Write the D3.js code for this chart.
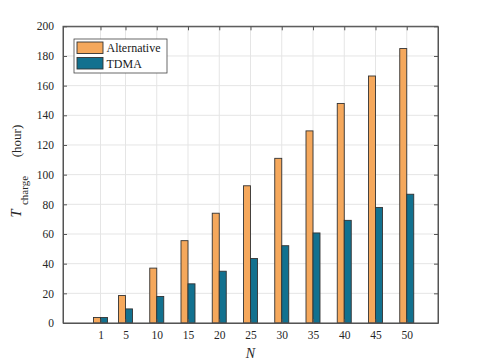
<!DOCTYPE html>
<html><head><meta charset="utf-8">
<script src="https://cdn.jsdelivr.net/npm/d3@7/dist/d3.min.js"></script>
<style>body{margin:0;background:#fff}svg{display:block}text{font-family:"Liberation Serif","Times New Roman",serif}</style>
</head><body><svg id="c" width="485" height="363"></svg>
<script>
const categories = [1, 5, 10, 15, 20, 25, 30, 35, 40, 45, 50];
const alternative = [3.7, 18.5, 37, 55.5, 74, 92.5, 111, 129.5, 148, 166.5, 185];
const tdma = [3.7, 9.5, 17.9, 26.4, 34.9, 43.5, 52.1, 60.7, 69.2, 77.9, 86.8];
const seriesNames = ["Alternative", "TDMA"];
const colors = ["#F5A85C", "#12718F"];
const yTicks = [0, 20, 40, 60, 80, 100, 120, 140, 160, 180, 200];

const svg = d3.select("#c");
const L = 63, R = 438, T = 26.3, B = 323;
const x = d3.scaleLinear().domain([-5, 55]).range([L, R]);
const y = d3.scaleLinear().domain([0, 200]).range([B, T]);
const bw = 1.12; // bar width in data units
const axisCol = "#555";
const tickFont = "11.5px";

// grid
svg.append("g").selectAll("line").data(categories).join("line")
  .attr("x1", d => x(d)).attr("x2", d => x(d)).attr("y1", T).attr("y2", B)
  .attr("stroke", "#e5e5e5").attr("stroke-width", 1);
svg.append("g").selectAll("line").data(yTicks).join("line")
  .attr("x1", L).attr("x2", R).attr("y1", d => y(d)).attr("y2", d => y(d))
  .attr("stroke", "#e5e5e5").attr("stroke-width", 1);

// bars
const series = [alternative, tdma];
series.forEach((vals, si) => {
  svg.append("g").selectAll("rect").data(categories).join("rect")
    .attr("x", (d) => x(d + (si === 0 ? -bw : 0)))
    .attr("width", x(bw) - x(0))
    .attr("y", (d, i) => y(vals[i]))
    .attr("height", (d, i) => y(0) - y(vals[i]))
    .attr("fill", colors[si]).attr("stroke", "#333").attr("stroke-width", 0.9);
});

// axes
const gx = svg.append("g").attr("transform", `translate(0,${B})`)
  .call(d3.axisBottom(x).tickValues(categories).tickSize(-4).tickPadding(8).tickSizeOuter(0));
const gxt = svg.append("g").attr("transform", `translate(0,${T})`)
  .call(d3.axisTop(x).tickValues(categories).tickSize(-4).tickFormat("").tickSizeOuter(0));
const gy = svg.append("g").attr("transform", `translate(${L},0)`)
  .call(d3.axisLeft(y).tickValues(yTicks).tickSize(-4).tickPadding(9).tickSizeOuter(0));
const gyr = svg.append("g").attr("transform", `translate(${R},0)`)
  .call(d3.axisRight(y).tickValues(yTicks).tickSize(-4).tickFormat("").tickSizeOuter(0));
[gx, gxt, gy, gyr].forEach(g => {
  g.selectAll("path").attr("stroke", axisCol);
  g.selectAll("line").attr("stroke", axisCol);
  g.selectAll("text").attr("fill", "#262626").style("font-size", tickFont).style("font-family", "'Liberation Serif',serif");
});
svg.append("rect").attr("x", L).attr("y", T).attr("width", R - L).attr("height", B - T)
  .attr("fill", "none").attr("stroke", axisCol).attr("stroke-width", 1);

// x label
svg.append("text").attr("x", x(25)).attr("y", 358).attr("text-anchor", "middle")
  .style("font-size", "14px").style("font-style", "italic").attr("fill", "#262626").text("N");

// y label (rotated frame: screen x = ry, screen y = -rx)
const yl = svg.append("g").attr("transform", "rotate(-90)").attr("fill", "#262626");
yl.append("text").attr("x", -213.5).attr("y", 21).attr("text-anchor", "middle")
  .style("font-size", "14.5px").style("font-style", "italic").text("T");
yl.append("text").attr("x", -190.5).attr("y", 28).attr("text-anchor", "middle")
  .style("font-size", "11px").text("charge");
yl.append("text").attr("x", -141).attr("y", 21).attr("text-anchor", "middle")
  .style("font-size", "13px").text("(hour)");

// legend
const lg = svg.append("g");
lg.append("rect").attr("x", 74).attr("y", 39).attr("width", 93).attr("height", 34)
  .attr("fill", "#fff").attr("stroke", "#444").attr("stroke-width", 0.8);
seriesNames.forEach((n, i) => {
  lg.append("rect").attr("x", 77).attr("y", 42 + i * 15.5).attr("width", 26).attr("height", 11.5)
    .attr("fill", colors[i]).attr("stroke", "#333").attr("stroke-width", 0.9);
  lg.append("text").attr("x", 106.5).attr("y", 52 + i * 15.5).attr("fill", "#1a1a1a")
    .style("font-size", "12px").text(n);
});
</script></body></html>
